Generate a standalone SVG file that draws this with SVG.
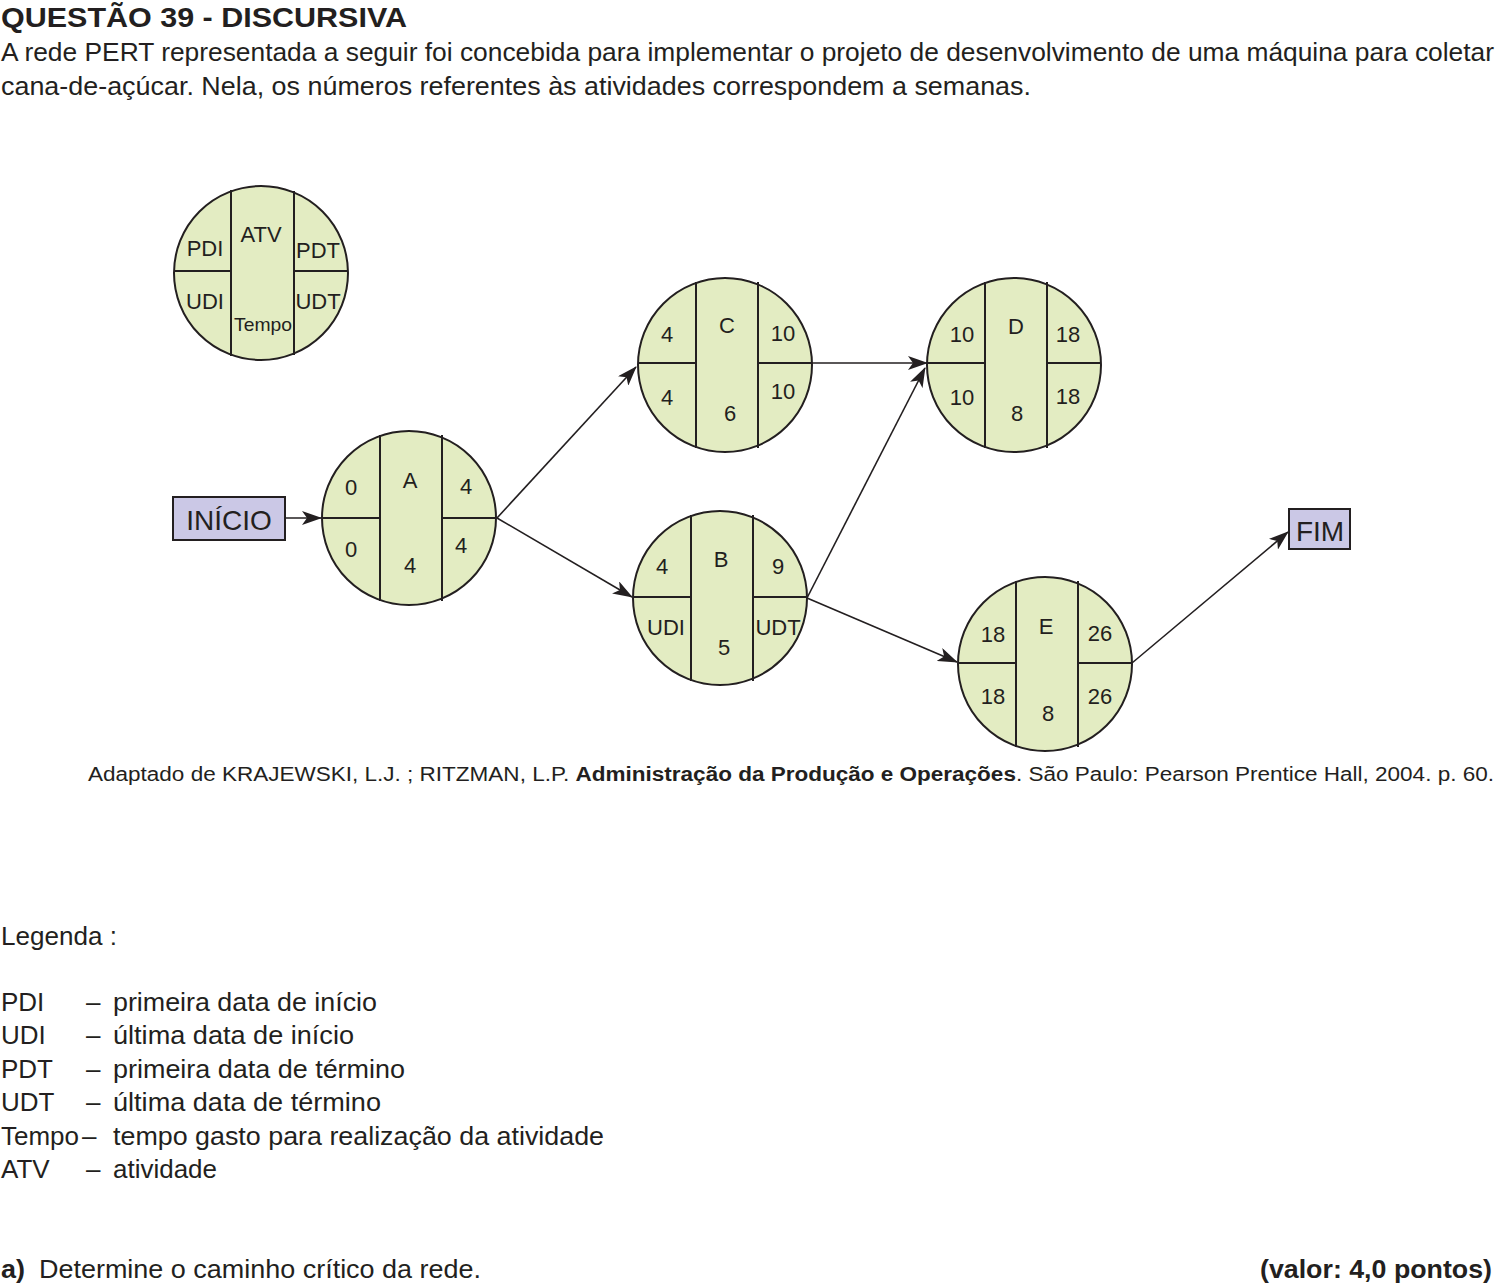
<svg xmlns="http://www.w3.org/2000/svg" width="1499" height="1286" viewBox="0 0 1499 1286">
<style>
.t{font-family:"Liberation Sans",Arial,sans-serif;fill:#231f20}
.n{font-family:"Liberation Sans",Arial,sans-serif;font-size:22px;fill:#231f20;text-anchor:middle}
.c{fill:#e3ecc2;stroke:#231f20;stroke-width:2}
.l{stroke:#231f20;stroke-width:2;fill:none}
.b{fill:#cbc8e6;stroke:#231f20;stroke-width:2}
.e{stroke:#231f20;stroke-width:1.6;fill:none;marker-end:url(#ah)}
</style>
<defs>
<marker id="ah" markerUnits="userSpaceOnUse" markerWidth="20" markerHeight="14" refX="19" refY="7" orient="auto">
<path d="M0,0 L20,7 L0,14 L5,7 Z" fill="#231f20"/>
</marker>
</defs>
<rect width="1499" height="1286" fill="#fff"/>

<text class="t" x="1" y="27" font-size="28" font-weight="bold" textLength="406" lengthAdjust="spacingAndGlyphs">QUESTÃO 39 - DISCURSIVA</text>
<text class="t" x="1" y="61" font-size="26" textLength="1493" lengthAdjust="spacingAndGlyphs">A rede PERT representada a seguir foi concebida para implementar o projeto de desenvolvimento de uma máquina para coletar</text>
<text class="t" x="1" y="95" font-size="26" textLength="1030" lengthAdjust="spacingAndGlyphs">cana-de-açúcar. Nela, os números referentes às atividades correspondem a semanas.</text>

<g id="legend-node">
<circle class="c" cx="261" cy="273" r="87"/>
<line class="l" x1="231" y1="190" x2="231" y2="356"/>
<line class="l" x1="294" y1="191" x2="294" y2="355"/>
<line class="l" x1="174" y1="271" x2="231" y2="271"/>
<line class="l" x1="294" y1="271" x2="348" y2="271"/>
<text class="n" x="205" y="256">PDI</text>
<text class="n" x="261" y="242">ATV</text>
<text class="n" x="318" y="258">PDT</text>
<text class="n" x="205" y="309">UDI</text>
<text class="n" x="318" y="309">UDT</text>
<text class="t" x="234" y="331" font-size="19" textLength="58" lengthAdjust="spacingAndGlyphs">Tempo</text>
</g>

<g id="connectors">
<line class="e" x1="285" y1="518" x2="321" y2="518"/>
<line class="e" x1="497" y1="518" x2="636" y2="367"/>
<line class="e" x1="497" y1="518" x2="632" y2="597"/>
<line class="e" x1="812" y1="363" x2="927" y2="363"/>
<line class="e" x1="807" y1="598" x2="925" y2="368"/>
<line class="e" x1="807" y1="598" x2="957" y2="662"/>
<line class="e" x1="1132" y1="663" x2="1288" y2="532"/>
</g>

<g id="inicio">
<rect class="b" x="173" y="497" width="112" height="43"/>
<text class="t" x="229" y="530" font-size="28" text-anchor="middle">INÍCIO</text>
</g>

<g id="fim">
<rect class="b" x="1289" y="509" width="61" height="40"/>
<text class="t" x="1320" y="541" font-size="28" text-anchor="middle">FIM</text>
</g>

<g id="node-A">
<circle class="c" cx="409" cy="518" r="87"/>
<line class="l" x1="380" y1="435" x2="380" y2="601"/>
<line class="l" x1="442" y1="435" x2="442" y2="601"/>
<line class="l" x1="322" y1="518" x2="380" y2="518"/>
<line class="l" x1="442" y1="518" x2="496" y2="518"/>
<text class="n" x="351" y="495">0</text>
<text class="n" x="410" y="488">A</text>
<text class="n" x="466" y="494">4</text>
<text class="n" x="351" y="557">0</text>
<text class="n" x="410" y="573">4</text>
<text class="n" x="461" y="553">4</text>
</g>

<g id="node-C">
<circle class="c" cx="725" cy="365" r="87"/>
<line class="l" x1="696" y1="282" x2="696" y2="448"/>
<line class="l" x1="758" y1="282" x2="758" y2="448"/>
<line class="l" x1="638" y1="363" x2="696" y2="363"/>
<line class="l" x1="758" y1="363" x2="812" y2="363"/>
<text class="n" x="667" y="342">4</text>
<text class="n" x="727" y="333">C</text>
<text class="n" x="783" y="341">10</text>
<text class="n" x="667" y="405">4</text>
<text class="n" x="730" y="421">6</text>
<text class="n" x="783" y="399">10</text>
</g>

<g id="node-D">
<circle class="c" cx="1014" cy="365" r="87"/>
<line class="l" x1="985" y1="282" x2="985" y2="448"/>
<line class="l" x1="1047" y1="282" x2="1047" y2="448"/>
<line class="l" x1="927" y1="363" x2="985" y2="363"/>
<line class="l" x1="1047" y1="363" x2="1101" y2="363"/>
<text class="n" x="962" y="342">10</text>
<text class="n" x="1016" y="334">D</text>
<text class="n" x="1068" y="342">18</text>
<text class="n" x="962" y="405">10</text>
<text class="n" x="1017" y="421">8</text>
<text class="n" x="1068" y="404">18</text>
</g>

<g id="node-B">
<circle class="c" cx="720" cy="598" r="87"/>
<line class="l" x1="691" y1="515" x2="691" y2="681"/>
<line class="l" x1="753" y1="515" x2="753" y2="681"/>
<line class="l" x1="633" y1="597" x2="691" y2="597"/>
<line class="l" x1="753" y1="597" x2="807" y2="597"/>
<text class="n" x="662" y="574">4</text>
<text class="n" x="721" y="567">B</text>
<text class="n" x="778" y="574">9</text>
<text class="n" x="666" y="635">UDI</text>
<text class="n" x="724" y="655">5</text>
<text class="n" x="778" y="635">UDT</text>
</g>

<g id="node-E">
<circle class="c" cx="1045" cy="664" r="87"/>
<line class="l" x1="1016" y1="581" x2="1016" y2="747"/>
<line class="l" x1="1078" y1="581" x2="1078" y2="747"/>
<line class="l" x1="958" y1="663" x2="1016" y2="663"/>
<line class="l" x1="1078" y1="663" x2="1132" y2="663"/>
<text class="n" x="993" y="642">18</text>
<text class="n" x="1046" y="634">E</text>
<text class="n" x="1100" y="641">26</text>
<text class="n" x="993" y="704">18</text>
<text class="n" x="1048" y="721">8</text>
<text class="n" x="1100" y="704">26</text>
</g>

<text class="t" x="88" y="781" font-size="20" textLength="1406" lengthAdjust="spacingAndGlyphs">Adaptado de KRAJEWSKI, L.J. ; RITZMAN, L.P. <tspan font-weight="bold">Administração da Produção e Operações</tspan>. São Paulo: Pearson Prentice Hall, 2004. p. 60.</text>

<g class="t" font-size="26">
<text x="1" y="945" textLength="116" lengthAdjust="spacingAndGlyphs">Legenda :</text>
<text x="1" y="1011">PDI</text>
<text x="1" y="1044">UDI</text>
<text x="1" y="1078">PDT</text>
<text x="1" y="1111">UDT</text>
<text x="1" y="1145" textLength="78" lengthAdjust="spacingAndGlyphs">Tempo</text>
<text x="1" y="1178">ATV</text>
<text x="86" y="1011">–</text>
<text x="86" y="1044">–</text>
<text x="86" y="1078">–</text>
<text x="86" y="1111">–</text>
<text x="82" y="1145">–</text>
<text x="86" y="1178">–</text>
<text x="113" y="1011" textLength="264" lengthAdjust="spacingAndGlyphs">primeira data de início</text>
<text x="113" y="1044" textLength="241" lengthAdjust="spacingAndGlyphs">última data de início</text>
<text x="113" y="1078" textLength="292" lengthAdjust="spacingAndGlyphs">primeira data de término</text>
<text x="113" y="1111" textLength="268" lengthAdjust="spacingAndGlyphs">última data de término</text>
<text x="113" y="1145" textLength="491" lengthAdjust="spacingAndGlyphs">tempo gasto para realização da atividade</text>
<text x="113" y="1178" textLength="104" lengthAdjust="spacingAndGlyphs">atividade</text>
</g>

<text class="t" x="1" y="1278" font-size="26" font-weight="bold" textLength="24" lengthAdjust="spacingAndGlyphs">a)</text>
<text class="t" x="39" y="1278" font-size="26" textLength="442" lengthAdjust="spacingAndGlyphs">Determine o caminho crítico da rede.</text>
<text class="t" x="1260" y="1278" font-size="26" font-weight="bold" textLength="232" lengthAdjust="spacingAndGlyphs">(valor: 4,0 pontos)</text>
</svg>
